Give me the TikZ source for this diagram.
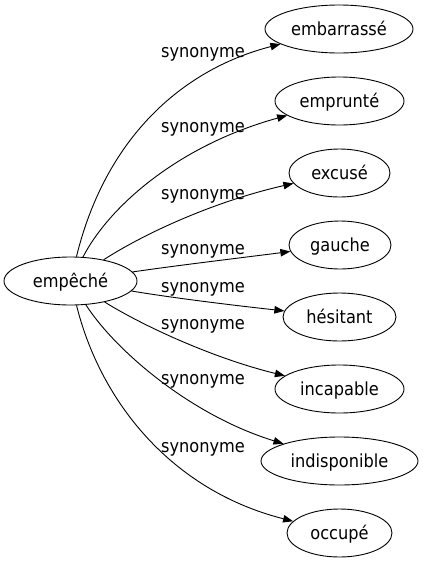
\documentclass[tikz,border=0pt]{standalone}
\usepackage{fontspec}
\setmainfont{DejaVu Sans Condensed}
\usetikzlibrary{shapes.geometric,arrows.meta}
\begin{document}
\begin{tikzpicture}[x=1pt,y=-1pt,
  word/.style={draw,ellipse,line width=0.9pt,inner sep=0pt,minimum height=48pt,font=\fontsize{18}{20}\selectfont,text height=14pt,text depth=2pt},
  lab/.style={anchor=base,inner sep=0pt,font=\fontsize{18}{20}\selectfont},
  edge/.style={line width=0.9pt,-{Triangle[length=10pt,width=7.5pt]}}]
\useasboundingbox (0,0) rectangle (423,563);
\node[word,minimum width=133pt] (c) at (70.5,281) {empêché};
\node[word,minimum width=148pt] (n1) at (339,29) {embarrassé};
\node[word,minimum width=129pt] (n2) at (339.5,101) {emprunté};
\node[word,minimum width=101pt] (n3) at (339.5,173) {excusé};
\node[word,minimum width=102pt] (n4) at (340,245) {gauche};
\node[word,minimum width=113pt] (n5) at (339.5,317) {hésitant};
\node[word,minimum width=129pt] (n6) at (339.5,389) {incapable};
\node[word,minimum width=157pt] (n7) at (339.5,461) {indisponible};
\node[word,minimum width=105pt] (n8) at (339.5,533) {occupé};
\node[lab] (l1) at (203,57) {synonyme};
\node[lab] (l2) at (203,132) {synonyme};
\node[lab] (l3) at (203,199) {synonyme};
\node[lab] (l4) at (203,254) {synonyme};
\node[lab] (l5) at (203,292) {synonyme};
\node[lab] (l6) at (203,329) {synonyme};
\node[lab] (l7) at (203,384) {synonyme};
\node[lab] (l8) at (203,452) {synonyme};
\draw[edge] (c) .. controls (105,140) and (180,70) .. (n1);
\draw[edge] (c) .. controls (110,205) and (180,145) .. (n2);
\draw[edge] (c) .. controls (150,230) and (220,200) .. (n3);
\draw[edge] (c) .. controls (180,265) and (240,258) .. (n4);
\draw[edge] (c) .. controls (180,299) and (240,306) .. (n5);
\draw[edge] (c) .. controls (150,330) and (220,360) .. (n6);
\draw[edge] (c) .. controls (115,350) and (190,415) .. (n7);
\draw[edge] (c) .. controls (100,400) and (170,490) .. (n8);
\end{tikzpicture}
\end{document}
